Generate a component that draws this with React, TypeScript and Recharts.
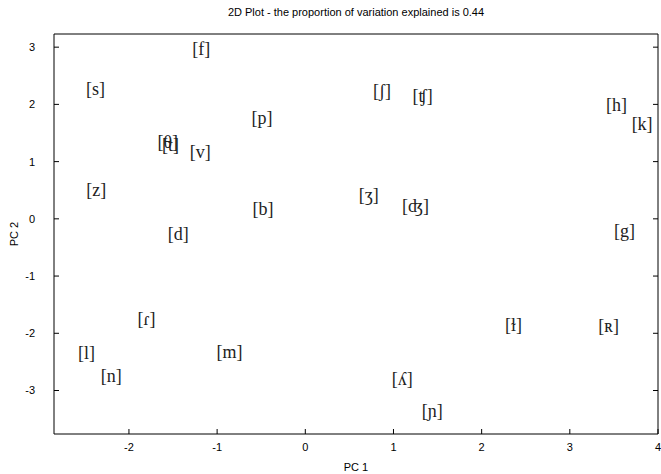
import React from 'react';
import { ScatterChart, Scatter, XAxis, YAxis } from 'recharts';

const labels = ['[f]', '[s]', '[p]', '[θ]', '[t]', '[v]', '[z]', '[b]', '[d]', '[ʃ]', '[ʧ]', '[h]', '[k]', '[ʒ]', '[ʤ]', '[g]', '[ɾ]', '[l]', '[n]', '[m]', '[ɫ]', '[ʀ]', '[ʎ]', '[ɲ]'];
const pc1 = [-1.18, -2.38, -0.49, -1.56, -1.53, -1.19, -2.37, -0.48, -1.44, 0.87, 1.33, 3.53, 3.82, 0.72, 1.25, 3.62, -1.80, -2.48, -2.20, -0.86, 2.36, 3.44, 1.10, 1.44];
const pc2 = [2.97, 2.27, 1.77, 1.35, 1.29, 1.17, 0.51, 0.17, -0.26, 2.23, 2.14, 1.99, 1.66, 0.42, 0.22, -0.22, -1.75, -2.35, -2.74, -2.32, -1.85, -1.88, -2.80, -3.35];
const xTicks = [-2, -1, 0, 1, 2, 3, 4];
const yTicks = [-3, -2, -1, 0, 1, 2, 3];

const data = labels.map((label, i) => ({ label, x: pc1[i], y: pc2[i] }));

const sans = 'Liberation Sans, Arial, sans-serif';
const tickStyle = { fontSize: 11, fill: '#000', fontFamily: sans };

const LabelShape = (props: any) => {
  const { cx, cy, payload } = props;
  return (
    <text x={cx} y={cy} textAnchor="middle" dominantBaseline="central" fontSize={18}
      fontFamily="Liberation Serif, DejaVu Serif, serif" fill="#222">
      {payload.label}
    </text>
  );
};

export default function App() {
  return (
    <div style={{ position: 'absolute', left: 0, top: 0, width: 661, height: 474, background: '#fff' }}>
      <div style={{ position: 'absolute', left: 54, width: 604, top: 6, textAlign: 'center', fontSize: 11, fontFamily: sans, color: '#000' }}>
        2D Plot - the proportion of variation explained is 0.44
      </div>
      <ScatterChart width={661} height={474} margin={{ top: 0, right: 0, bottom: 0, left: 0 }}>
        <XAxis type="number" dataKey="x" domain={[-2.85, 4.0]} ticks={xTicks} allowDataOverflow
          height={40} tickSize={-5} tickMargin={14} tick={tickStyle}
          axisLine={{ stroke: '#000' }} tickLine={{ stroke: '#000' }}
          label={{ value: 'PC 1', position: 'insideBottom', offset: 3, style: { fontSize: 11, fill: '#000', fontFamily: sans } }} />
        <XAxis xAxisId="top" orientation="top" type="number" domain={[-2.85, 4.0]} ticks={xTicks} allowDataOverflow
          height={34} tickSize={-5} tickFormatter={() => ''} axisLine={{ stroke: '#000' }} tickLine={{ stroke: '#000' }} />
        <YAxis type="number" dataKey="y" domain={[-3.76, 3.23]} ticks={yTicks} allowDataOverflow
          width={54} tickSize={-5} tickMargin={24} tick={tickStyle}
          axisLine={{ stroke: '#000' }} tickLine={{ stroke: '#000' }}
          label={{ value: 'PC 2', angle: -90, position: 'insideLeft', offset: 14, style: { fontSize: 11, fill: '#000', fontFamily: sans, textAnchor: 'middle' } }} />
        <YAxis yAxisId="right" orientation="right" type="number" domain={[-3.76, 3.23]} ticks={yTicks} allowDataOverflow
          width={3} tickSize={-5} tickFormatter={() => ''} axisLine={{ stroke: '#000' }} tickLine={{ stroke: '#000' }} />
        <Scatter data={data} shape={LabelShape} isAnimationActive={false} />
      </ScatterChart>
    </div>
  );
}
